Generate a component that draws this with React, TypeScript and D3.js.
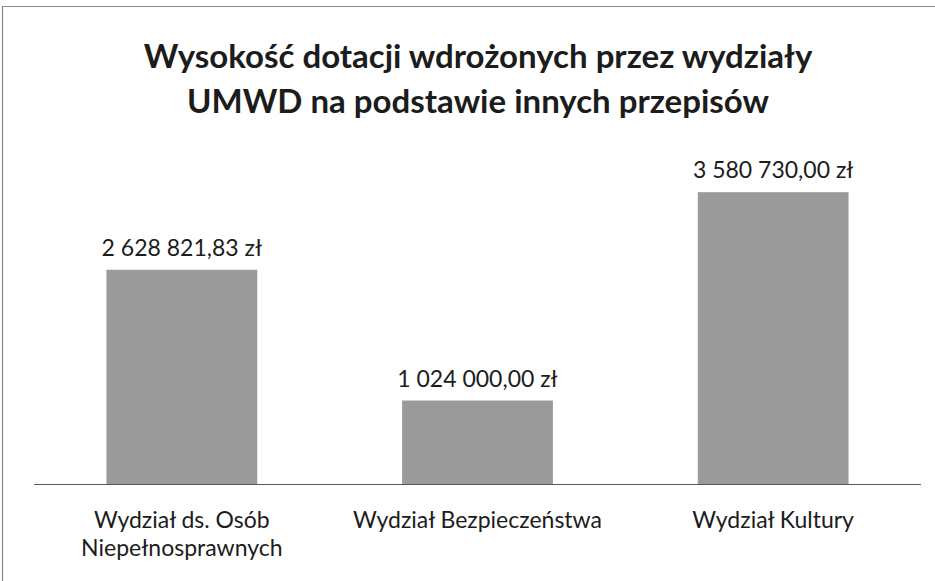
import React from "react";
import * as d3 from "d3";

const titleLines = ["Wysokość dotacji wdrożonych przez wydziały", "UMWD na podstawie innych przepisów"];
const categories = ["Wydział ds. Osób Niepełnosprawnych", "Wydział Bezpieczeństwa", "Wydział Kultury"];
const categoryLines = [["Wydział ds. Osób", "Niepełnosprawnych"], ["Wydział Bezpieczeństwa"], ["Wydział Kultury"]];
const values = [2628821.83, 1024000.0, 3580730.0];
const yDomain = [0, 4000000];

const W = 935;
const H = 581;
const FONT = 'Lato, "Open Sans", sans-serif';

const plZl = d3.formatLocale({
    decimal: ",",
    thousands: "\u00a0",
    grouping: [3],
    currency: ["", "\u00a0zł"],
});
const fmt = plZl.format("$,.2f");

const App = () => {
    const ref = React.useRef<SVGSVGElement>(null);

    React.useEffect(() => {
        const svg = d3.select(ref.current);
        svg.selectAll("*").remove();

        // frame of the scanned chart
        svg.append("path")
            .attr("d", `M2.5,${H} V6.5 H${W}`)
            .attr("fill", "none")
            .attr("stroke", "#8a8a8a")
            .attr("stroke-width", 1.2);

        // title
        const title = svg.append("g").attr("id", "title");
        titleLines.forEach((t, i) => {
            title.append("text")
                .attr("x", 478)
                .attr("y", 68 + i * 45)
                .attr("text-anchor", "middle")
                .attr("font-family", FONT)
                .attr("font-weight", "bold")
                .attr("font-size", "33px")
                .attr("fill", "#1c1c1c")
                .text(t);
        });

        const x = d3.scaleBand<string>()
            .domain(categories)
            .range([34, 921])
            .paddingInner(0.49)
            .paddingOuter(0.245);
        const y = d3.scaleLinear().domain(yDomain).range([484, 158]);

        // bars
        const graph = svg.append("g").attr("id", "graph");
        graph.selectAll("rect.bar")
            .data(values)
            .join("rect")
            .attr("class", "bar")
            .attr("x", (d, i) => x(categories[i]) as number)
            .attr("y", (d) => y(d))
            .attr("width", x.bandwidth())
            .attr("height", (d) => y(0) - y(d))
            .attr("fill", "#9a9a9a");

        // value labels
        graph.selectAll("text.value")
            .data(values)
            .join("text")
            .attr("class", "value")
            .attr("x", (d, i) => (x(categories[i]) as number) + x.bandwidth() / 2)
            .attr("y", (d) => y(d) - 14)
            .attr("text-anchor", "middle")
            .attr("font-family", FONT)
            .attr("font-size", "23px")
            .attr("fill", "#1c1c1c")
            .text((d) => fmt(d));

        // axis line
        svg.append("line")
            .attr("x1", 34)
            .attr("x2", 921)
            .attr("y1", 484.5)
            .attr("y2", 484.5)
            .attr("stroke", "#5a5a5a")
            .attr("stroke-width", 1);

        // category labels
        const cats = svg.append("g").attr("id", "categories");
        categoryLines.forEach((lines, i) => {
            const cx = (x(categories[i]) as number) + x.bandwidth() / 2;
            lines.forEach((l, j) => {
                cats.append("text")
                    .attr("x", cx)
                    .attr("y", 528 + j * 28)
                    .attr("text-anchor", "middle")
                    .attr("font-family", FONT)
                    .attr("font-size", "23px")
                    .attr("fill", "#1c1c1c")
                    .text(l);
            });
        });
    }, []);

    return (
        <svg
            ref={ref}
            width={W}
            height={H}
            style={{ position: "absolute", left: 0, top: 0, background: "#ffffff" }}
        ></svg>
    );
};

export default App;
